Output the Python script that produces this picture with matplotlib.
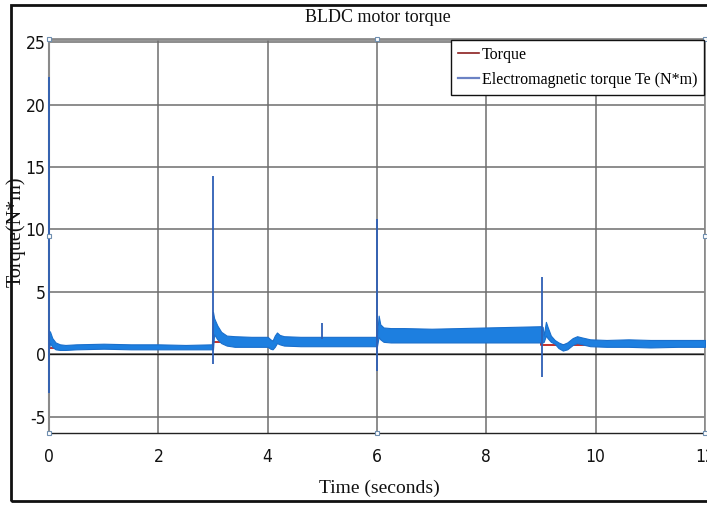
import matplotlib
matplotlib.use("Agg")
import matplotlib.pyplot as plt
from matplotlib.patches import Rectangle

plt.rcParams["axes.unicode_minus"] = False

# ---------------- data ----------------
# reference (load) torque, red step line
load_t = [0.0, 3.0, 3.0, 6.0, 6.0, 9.0, 9.0, 12.0]
load_v = [0.5, 0.5, 1.0, 1.0, 1.5, 1.5, 0.75, 0.75]

# electromagnetic torque ripple band (upper / lower envelope)
band_t = [0.0, 0.02, 0.06, 0.12, 0.2, 0.3, 0.5, 1.0, 1.5, 2.0, 2.5, 2.98,
          3.0, 3.02, 3.08, 3.15, 3.25, 3.4, 3.7, 4.0, 4.05, 4.09, 4.13, 4.17,
          4.22, 4.3, 4.6, 5.0, 5.5, 5.98,
          6.0, 6.03, 6.06, 6.12, 6.25, 6.5, 7.0, 7.5, 8.0, 8.5, 9.0,
          9.03, 9.05, 9.09, 9.12, 9.18, 9.25, 9.32, 9.4, 9.48, 9.58, 9.66,
          9.75, 9.9, 10.2, 10.6, 11.0, 11.5, 12.0]
band_hi = [1.9, 1.8, 1.3, 0.95, 0.8, 0.75, 0.8, 0.85, 0.8, 0.8, 0.75, 0.8,
           3.4, 2.9, 2.3, 1.8, 1.5, 1.45, 1.4, 1.4, 1.2, 1.1, 1.5, 1.75,
           1.55, 1.45, 1.4, 1.4, 1.4, 1.4,
           1.5, 3.1, 2.4, 2.15, 2.1, 2.1, 2.05, 2.1, 2.15, 2.2, 2.25,
           2.2, 1.5, 2.6, 2.2, 1.5, 1.15, 0.95, 0.8, 0.95, 1.3, 1.45,
           1.35, 1.2, 1.15, 1.2, 1.15, 1.15, 1.15]
band_lo = [0.5, 0.9, 0.6, 0.4, 0.35, 0.35, 0.4, 0.45, 0.4, 0.4, 0.4, 0.4,
           0.4, 1.6, 1.2, 0.9, 0.7, 0.6, 0.6, 0.6, 0.45, 0.4, 0.6, 0.9,
           0.8, 0.7, 0.65, 0.65, 0.65, 0.65,
           0.65, 1.4, 1.2, 1.0, 0.95, 0.95, 0.95, 0.95, 0.95, 0.95, 0.95,
           0.95, 1.0, 1.5, 1.3, 1.0, 0.85, 0.5, 0.3, 0.4, 0.75, 0.9,
           0.8, 0.65, 0.6, 0.6, 0.55, 0.6, 0.6]

# transient spikes of the electromagnetic torque
spike_t = [0.0, 3.0, 5.0, 6.0, 9.02]
spike_hi = [22.2, 14.3, 2.5, 10.8, 6.2]
spike_lo = [-3.1, -0.8, 1.2, -1.3, -1.8]

x_ticks = [0, 2, 4, 6, 8, 10, 12]
y_ticks = [-5, 0, 5, 10, 15, 20, 25]

# ---------------- figure ----------------
W, H = 707, 505
fig = plt.figure(figsize=(W / 100, H / 100), dpi=100)
fig.patch.set_facecolor("white")

ax = fig.add_axes([49 / W, 1 - 433 / H, (705 - 49) / W, (433 - 39) / H])
ax.set_xlim(0, 12)
ax.set_ylim(-6.3, 25.25)

ax.set_xticks(x_ticks)
ax.set_yticks(y_ticks)
ax.grid(True, color="#6e6e6e", linewidth=1.1)
ax.set_axisbelow(True)
ax.axhline(0, color="#1a1a1a", linewidth=1.0, zorder=1)

ax.tick_params(length=0, labelsize=12.5, colors="#111111")
ax.tick_params(axis="x", pad=11)
ax.tick_params(axis="y", pad=2.5)
for lab in ax.get_xticklabels() + ax.get_yticklabels():
    lab.set_family("DejaVu Sans")
    lab.set_stretch("condensed")

for side in ["top", "right", "left"]:
    ax.spines[side].set_color("#8a8a8a")
ax.spines["top"].set_linewidth(2.0)
ax.spines["right"].set_linewidth(1.2)
ax.spines["left"].set_linewidth(1.5)
ax.spines["bottom"].set_color("#222222")
ax.spines["bottom"].set_linewidth(1.0)

ax.plot(load_t, load_v, color="#c0201a", linewidth=1.3, zorder=2)
ax.fill_between(band_t, band_lo, band_hi, color="#1d7fe0", linewidth=0.8,
                edgecolor="#1a6fcc", zorder=3)
ax.vlines(spike_t, spike_lo, spike_hi, color="#2e5fb5", linewidth=1.3,
          zorder=4, clip_on=False)

# legend
h1, = ax.plot([], [], color="#8b1f1f", linewidth=1.2)
h2, = ax.plot([], [], color="#6b82c4", linewidth=1.6)
leg = ax.legend([h1, h2], ["Torque", "Electromagnetic torque Te (N*m)"],
                loc="upper right", bbox_to_anchor=(1.0, 1.0),
                prop={"family": "Liberation Serif", "size": 11.5},
                frameon=True, fancybox=False, edgecolor="#111111",
                framealpha=1, handlelength=1.3, handletextpad=0.15,
                borderpad=0.45, labelspacing=0.55, borderaxespad=0.05)
leg.get_frame().set_linewidth(1.0)
leg.set_zorder(7)

# selection handles
hx = [0, 0.5, 1, 0, 0.5, 1, 0, 1]
hy = [1, 1, 1, 0, 0, 0, 0.5, 0.5]
ax.plot(hx, hy, linestyle="none", marker="s", markersize=3.5,
        markerfacecolor="white", markeredgecolor="#6f8fb0",
        markeredgewidth=0.8, transform=ax.transAxes, clip_on=False, zorder=6)

serif = "Liberation Serif"
fig.text(378 / W, 1 - 18 / H, "BLDC motor torque", ha="center", va="center",
         family=serif, fontsize=13, color="#111111")
fig.text(379 / W, 1 - 488 / H, "Time (seconds)", ha="center", va="center",
         family=serif, fontsize=14, color="#111111")
fig.text(16 / W, 1 - 232 / H, "Torque(N*m)", ha="center", va="center",
         rotation=90, family=serif, fontsize=14.5, color="#111111")

# outer frame
fig.add_artist(Rectangle((10.5 / W, 1 - 501 / H), 0.99, (501 - 4.5) / H,
                         transform=fig.transFigure, fill=False,
                         edgecolor="#111111", linewidth=2.0))

fig.savefig("out.png", dpi=100)
